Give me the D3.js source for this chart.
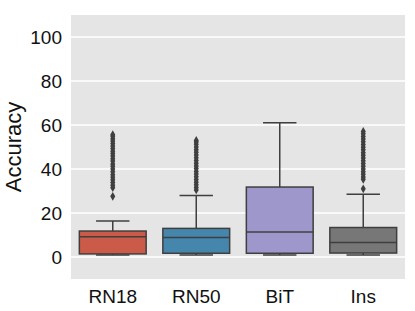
<!DOCTYPE html>
<html lang="en">
  <head>
    <meta charset="utf-8" />
    <script src="https://d3js.org/d3.v7.min.js"></script>
    <style>
      body { margin: 0; background: #fff; }
      text { font-family: "Liberation Sans", Arial, sans-serif; }
    </style>
  </head>
  <body>
    <div id="chart"></div>
    <script>
      // ---- data ----
      var models = ["RN18", "RN50", "BiT", "Ins"];
      var q1 = [1.4, 1.7, 1.7, 1.8];
      var median = [9.2, 8.9, 11.4, 6.6];
      var q3 = [11.8, 13.0, 31.8, 13.4];
      var whiskLow = [0.9, 0.9, 0.9, 0.9];
      var whiskHigh = [16.4, 28.0, 61.0, 28.5];
      var outliers = [
        [27.6, 31.5, 32.6, 33.9, 35.1, 36.3, 37.4, 38.8, 40.0, 41.2, 42.3, 43.6, 44.7, 45.9, 47.0, 48.1, 49.3, 50.4, 51.6, 52.7, 53.8, 54.9, 55.6],
        [30.5, 31.6, 32.8, 34.0, 35.2, 36.5, 37.7, 38.9, 40.2, 41.4, 42.6, 43.9, 45.1, 46.4, 47.6, 48.8, 50.0, 51.2, 52.3, 53.0],
        [],
        [31.0, 35.3, 36.4, 37.6, 38.8, 40.0, 41.3, 42.5, 43.7, 45.0, 46.2, 47.4, 48.7, 49.9, 51.1, 52.4, 53.6, 54.8, 56.0, 57.1]
      ];
      var colors = ["#cc5a49", "#4586ac", "#9e97cc", "#777777"];
      var yTicks = [0, 20, 40, 60, 80, 100];

      var W = 415, H = 311;
      var margin = { top: 15, right: 10, bottom: 32, left: 71 };
      var width = W - margin.left - margin.right,
        height = H - margin.top - margin.bottom;

      var svg = d3.select("#chart").append("svg")
        .attr("width", W).attr("height", H)
        .append("g")
        .attr("transform", "translate(" + margin.left + "," + margin.top + ")");

      var x = d3.scaleBand().domain(models).range([0, width]);
      var y = d3.scaleLinear().domain([-10, 110]).range([height, 0]);

      // background + grid
      svg.append("rect").attr("width", width).attr("height", height).attr("fill", "#e5e5e5");
      svg.append("g").selectAll("line").data(yTicks).enter().append("line")
        .attr("x1", 0).attr("x2", width)
        .attr("y1", function (d) { return y(d); })
        .attr("y2", function (d) { return y(d); })
        .attr("stroke", "#fff").attr("stroke-width", 1.3);

      // axes (labels only)
      var yAxis = svg.append("g").call(d3.axisLeft(y).tickValues(yTicks).tickSize(0).tickPadding(9));
      yAxis.select(".domain").remove();
      yAxis.selectAll("text").attr("font-size", 19).attr("fill", "#111")
        .attr("font-family", "Liberation Sans, Arial, sans-serif");

      var xAxis = svg.append("g").attr("transform", "translate(0," + height + ")")
        .call(d3.axisBottom(x).tickSize(0));
      xAxis.select(".domain").remove();
      xAxis.selectAll("text").attr("font-size", 19).attr("fill", "#111")
        .attr("y", 24).attr("dy", 0)
        .attr("font-family", "Liberation Sans, Arial, sans-serif");

      svg.append("text")
        .attr("transform", "rotate(-90)")
        .attr("x", -height / 2).attr("y", -50)
        .attr("text-anchor", "middle")
        .attr("font-size", 22).attr("fill", "#111")
        .text("Accuracy");

      // boxes
      var lineCol = "#3f3f3f";
      var bw = x.bandwidth() * 0.8;
      models.forEach(function (m, i) {
        var cx = x(m) + x.bandwidth() / 2;
        var g = svg.append("g");
        // whiskers
        g.append("line").attr("x1", cx).attr("x2", cx)
          .attr("y1", y(q3[i])).attr("y2", y(whiskHigh[i]))
          .attr("stroke", lineCol).attr("stroke-width", 1.5);
        g.append("line").attr("x1", cx).attr("x2", cx)
          .attr("y1", y(q1[i])).attr("y2", y(whiskLow[i]))
          .attr("stroke", lineCol).attr("stroke-width", 1.5);
        [whiskHigh[i], whiskLow[i]].forEach(function (v) {
          g.append("line").attr("x1", cx - bw / 4).attr("x2", cx + bw / 4)
            .attr("y1", y(v)).attr("y2", y(v))
            .attr("stroke", lineCol).attr("stroke-width", 1.5);
        });
        g.append("rect")
          .attr("x", cx - bw / 2).attr("width", bw)
          .attr("y", y(q3[i])).attr("height", y(q1[i]) - y(q3[i]))
          .attr("fill", colors[i]).attr("stroke", lineCol).attr("stroke-width", 1.5);
        g.append("line").attr("x1", cx - bw / 2).attr("x2", cx + bw / 2)
          .attr("y1", y(median[i])).attr("y2", y(median[i]))
          .attr("stroke", lineCol).attr("stroke-width", 1.5);
        // outliers as diamonds
        g.selectAll("path.out").data(outliers[i]).enter().append("path")
          .attr("d", d3.symbol().type(d3.symbolDiamond).size(22))
          .attr("transform", function (d) { return "translate(" + cx + "," + y(d) + ")"; })
          .attr("fill", lineCol);
      });
    </script>
  </body>
</html>
